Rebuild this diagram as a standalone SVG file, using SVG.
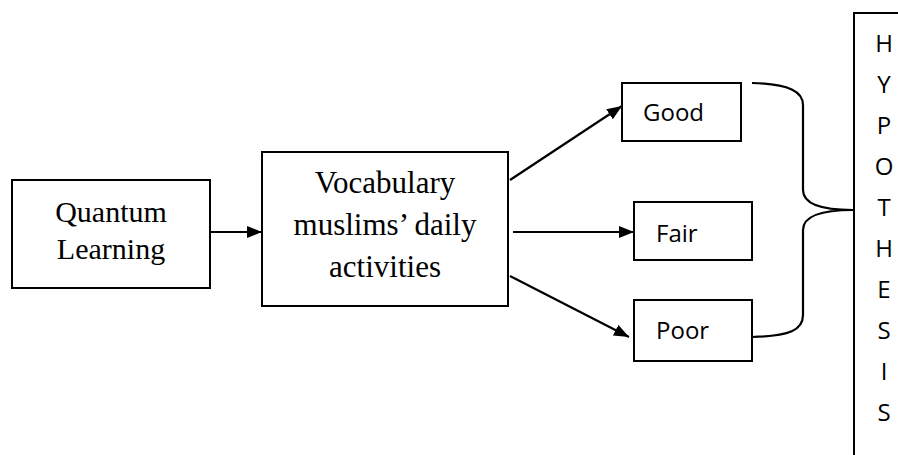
<svg xmlns="http://www.w3.org/2000/svg" width="898" height="455" viewBox="0 0 898 455">
<style>
.box{fill:#fff;stroke:#000;stroke-width:2}
.serif{font-family:"Liberation Serif","Times New Roman",serif;font-size:30px;fill:#000;text-anchor:middle}
.sans{font-family:"Open Sans","Liberation Sans",sans-serif;font-size:24px;fill:#000}
.conn{fill:none;stroke:#000;stroke-width:2.2}
</style>
<defs>
<marker id="ah" viewBox="0 0 15 12" refX="15" refY="6" markerWidth="15" markerHeight="12" markerUnits="userSpaceOnUse" orient="auto">
<path d="M0,0 L15,6 L0,12 Z" fill="#000"/>
</marker>
</defs>
<rect width="898" height="455" fill="#fff"/>
<g id="connectors">
<line class="conn" x1="210" y1="232" x2="262" y2="232" marker-end="url(#ah)"/>
<line class="conn" x1="510" y1="180" x2="622" y2="106" marker-end="url(#ah)"/>
<line class="conn" x1="513" y1="232" x2="634" y2="232" marker-end="url(#ah)"/>
<line class="conn" x1="510" y1="276" x2="629" y2="337" marker-end="url(#ah)"/>
<path class="conn" d="M752,83 C790,84 803,92 803,105 L803,190 C803,203 820,210 853,210 C820,210 803,217 803,230 L803,315 C803,330 790,336 752,337"/>
</g>
<g id="quantum">
<rect class="box" x="12" y="180" width="198" height="108"/>
<text class="serif" x="111" y="222">Quantum</text>
<text class="serif" x="111" y="259">Learning</text>
</g>
<g id="vocabulary">
<rect class="box" x="262" y="152" width="246" height="154"/>
<text class="serif" x="385" y="193" style="font-size:31px">Vocabulary</text>
<text class="serif" x="385" y="235" style="font-size:31px">muslims’ daily</text>
<text class="serif" x="385" y="277" style="font-size:31px">activities</text>
</g>
<g id="good">
<rect class="box" x="622" y="83" width="119" height="58"/>
<text class="sans" x="643" y="121">Good</text>
</g>
<g id="fair">
<rect class="box" x="634" y="202" width="118" height="58"/>
<text class="sans" x="656" y="242">Fair</text>
</g>
<g id="poor">
<rect class="box" x="634" y="300" width="118" height="61"/>
<text class="sans" x="656" y="339">Poor</text>
</g>
<g id="hypothesis">
<rect class="box" x="854" y="13" width="100" height="500"/>
<g class="sans" text-anchor="middle">
<text x="884" y="52">H</text>
<text x="884" y="93">Y</text>
<text x="884" y="134">P</text>
<text x="884" y="175">O</text>
<text x="884" y="216">T</text>
<text x="884" y="257">H</text>
<text x="884" y="298">E</text>
<text x="884" y="339">S</text>
<text x="884" y="380">I</text>
<text x="884" y="421">S</text>
</g>
</g>
</svg>
